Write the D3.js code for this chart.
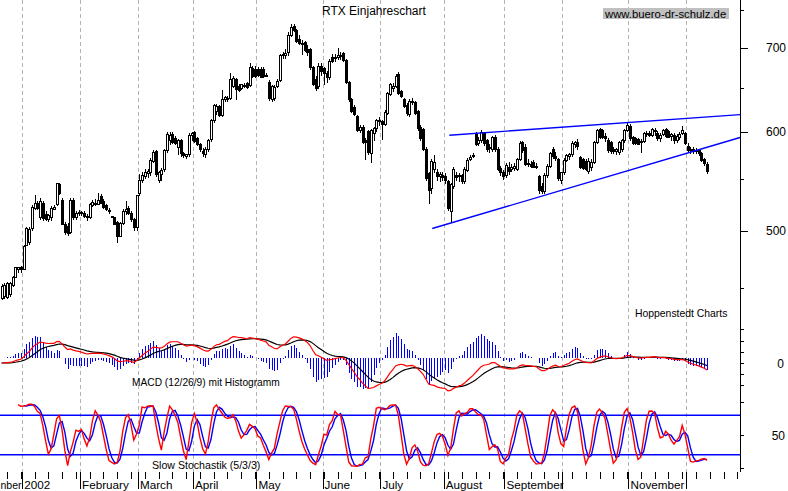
<!DOCTYPE html>
<html>
<head>
<meta charset="utf-8">
<script src="https://cdn.jsdelivr.net/npm/d3@7/dist/d3.min.js"></script>
<style>
body { margin: 0; background: #fff; }
svg { display: block; }
text { font-family: "Liberation Sans", Arial, sans-serif; font-size: 12px; fill: #000; }
</style>
</head>
<body>
<script>
// RTX Einjahreschart - daily candles, trend channel, MACD + slow stochastic

var opens = [
  441,443,442,445,452,459,466,467,466,487, 489,502,521,526,512,526,515,510,512,520,
  525,544,529,506,504,498,529,512,516,517, 516,513,512,524,526,525,532,528,524,519,
  513,512,508,495,507,518,521,516,510,503, 535,548,552,555,556,568,578,548,554,560,
  579,590,597,592,583,590,576,573,575,596, 599,592,586,578,575,580,591,612,622,628,
  618,636,638,638,652,660,652,650,653,655, 653,674,673,672,673,672,665,657,636,638,
  652,659,690,690,694,716,728,722,710,706, 707,698,698,675,660,652,676,674,667,663,
  688,686,688,689,692,684,657,636,627,617, 601,605,590,600,576,598,603,612,611,608,
  620,642,650,652,666,646,636,630,619,634, 633,622,605,602,580,555,540,560,556,552,
  553,552,547,518,542,553,552,553,547,559, 570,573,597,587,590,598,590,582,580,593,
  581,561,556,553,562,560,561,560,570,588, 583,566,565,567,563,552,542,537,553,563,
  580,573,570,548,556,569,573,575,586,588, 572,570,568,558,562,567,588,602,601,595,
  590,588,580,578,577,580,590,601,606,593, 592,591,588,589,597,598,596,601,598,592,
  597,602,600,595,596,590,593,598,598,584, 579,580,578,579,576,570,565
];
var highs = [
  453,454,455,455,460,468,468,469,487,503, 503,524,534,528,531,528,518,516,523,524,
  546,546,531,508,507,531,531,518,519,518, 518,516,526,529,530,536,535,530,525,521,
  514,513,509,508,520,528,523,518,512,534, 555,557,560,560,571,580,580,558,561,581,
  600,600,599,595,592,592,578,576,598,600, 601,594,588,582,583,592,614,631,631,630,
  648,641,641,668,664,662,655,655,656,657, 681,677,677,676,676,675,668,660,654,654,
  661,692,695,698,720,731,731,724,716,710, 709,703,700,677,664,680,681,676,671,686,
  692,692,700,694,694,686,659,638,630,619, 607,607,593,602,603,605,614,616,613,624,
  645,656,656,667,669,648,638,632,637,638, 635,624,607,604,583,557,570,575,560,557,
  557,556,549,546,562,557,556,555,562,572, 575,577,600,594,602,600,592,586,595,596,
  583,563,559,566,567,565,566,572,590,590, 586,570,568,569,566,554,546,556,565,578,
  583,578,572,557,572,576,577,590,590,592, 574,572,570,571,570,590,603,604,603,598,
  593,590,583,582,590,592,603,611,608,595, 594,593,592,600,601,601,604,604,601,598,
  603,604,602,598,598,597,599,606,600,587, 583,583,582,581,578,572,567
];
var lows = [
  440,441,441,443,451,458,463,463,465,486, 487,500,519,519,510,509,509,508,509,519,
  523,534,505,496,495,497,510,510,514,514, 512,509,511,522,523,524,525,520,518,516,
  512,505,489,494,505,515,515,508,500,500, 533,546,550,551,553,566,552,546,548,557,
  577,585,586,585,575,573,572,570,573,590, 587,584,578,573,572,578,589,610,618,616,
  616,634,634,636,650,636,645,648,650,649, 651,662,662,663,662,662,663,635,634,635,
  650,657,686,686,690,714,720,706,703,691, 695,690,672,652,647,649,665,654,656,660,
  680,682,684,684,682,655,634,621,617,599, 598,586,569,575,566,590,600,606,591,606,
  618,640,645,650,642,638,626,617,616,630, 618,601,590,579,548,525,535,556,548,547,
  548,545,518,507,540,548,547,545,545,557, 568,571,584,584,588,584,578,577,578,578,
  558,553,549,551,554,557,558,558,568,577, 563,562,561,561,560,535,535,535,551,561,
  570,568,548,545,554,567,569,573,582,580, 560,559,558,555,558,565,586,592,592,589,
  577,576,576,575,575,578,588,599,590,585, 585,585,577,587,594,594,594,595,590,589,
  595,593,593,590,586,588,591,596,585,577, 576,576,576,574,567,563,555
];
var closes = [
  451,452,454,454,459,467,467,466,486,502, 501,522,526,521,528,511,510,514,521,522,
  545,535,506,498,497,529,512,516,517,516, 513,512,525,527,525,529,526,522,520,518,
  513,506,495,507,518,520,516,510,503,533, 548,553,556,557,569,577,554,556,559,579,
  597,596,588,587,590,576,574,575,596,598, 589,586,580,576,580,590,612,629,628,618,
  636,639,638,660,662,648,647,654,652,651, 675,664,664,665,663,664,665,637,652,651,
  658,690,691,693,716,726,722,708,706,704, 697,694,675,654,650,676,670,667,663,683,
  683,688,690,690,684,657,636,623,619,601, 605,588,588,577,601,603,612,611,608,621,
  643,654,652,664,644,640,628,620,634,633, 620,603,592,581,550,538,568,567,552,554,
  551,548,521,544,560,551,553,547,560,569, 572,574,586,590,599,587,580,583,593,581,
  560,556,552,564,557,562,563,570,587,579, 565,565,563,562,562,538,537,553,563,576,
  573,571,550,556,569,574,575,587,588,584, 562,561,560,568,567,588,601,593,594,592,
  579,578,578,580,588,590,601,607,592,587, 587,586,589,598,598,596,602,600,592,596,
  601,595,594,597,590,595,597,601,587,579, 580,578,579,576,569,566,557
];

// x axis: first trading day of each month (bar index) and its label
// (the December 2001 label is cut by the left edge in the original, only "nber" shows)
var monthStart = [-13, 8, 29, 50, 70, 93, 117, 138, 161, 183, 204, 228, 249];
var monthNames = ["nber", "2002", "February", "March", "April", "May", "June",
                  "July", "August", "September", "", "November", ""];
var priceTicks = [500, 600, 700];
var priceMinor = [450, 550, 650, 750];
// trend channel end points [bar index, price]
var upperTrend = [[162.5, 596], [268, 619]];
var lowerTrend = [[156.3, 502], [268, 593.5]];
var macdTicks = [30, 20, 10, 0, -10, -20];
var stochTicks = [100, 50, 0];
var stochBands = [80, 20];

var W = 788, H = 491;
var axisX = 740, axisBottom = 472;

var svg = d3.select("body").append("svg")
    .attr("width", W)
    .attr("height", H);

var x = d3.scaleLinear().domain([0, 256]).range([1.5, 707]);
var y = d3.scaleLog().domain([500, 700]).range([230.7, 47.7]);
var yM = d3.scaleLinear().domain([0, 30]).range([363, 329.4]);
var yHist = d3.scaleLinear().domain([0, 5]).range([358, 343]);
var yS = d3.scaleLinear().domain([0, 100]).range([468, 402]);

// ---- indicators ----
function ema(arr, n) {
    var k = 2 / (n + 1), out = [], prev = arr[0];
    for (var i = 0; i < arr.length; i++) {
        prev = i == 0 ? arr[0] : arr[i] * k + prev * (1 - k);
        out.push(prev);
    }
    return out;
}
var ema12 = ema(closes, 12), ema26 = ema(closes, 26);
var macd = closes.map(function(c, i) { return ema12[i] - ema26[i]; });
var signal = ema(macd, 9);
var hist = macd.map(function(m, i) { return m - signal[i]; });

function sma(arr, n) {
    return arr.map(function(v, i) {
        if (i < n - 1) return null;
        var s = 0;
        for (var j = i - n + 1; j <= i; j++) {
            if (arr[j] == null) return null;
            s += arr[j];
        }
        return s / n;
    });
}
var fastK = closes.map(function(c, i) {
    if (i < 4) return null;
    var hh = d3.max(highs.slice(i - 4, i + 1)), ll = d3.min(lows.slice(i - 4, i + 1));
    return hh == ll ? 50 : 100 * (c - ll) / (hh - ll);
});
var slowK = sma(fastK, 3);
var slowD = sma(slowK, 3);

// ---- grid ----
svg.append("g").selectAll("line")
    .data(monthStart)
    .enter().append("line")
    .attr("x1", function(d) { return Math.round(x(d - 0.5)) + 0.5; })
    .attr("x2", function(d) { return Math.round(x(d - 0.5)) + 0.5; })
    .attr("y1", 0)
    .attr("y2", axisBottom)
    .attr("stroke", "#b4b4b4")
    .attr("stroke-dasharray", "4,3");

// ---- candles ----
var idx = d3.range(closes.length);
var candles = svg.append("g").attr("shape-rendering", "crispEdges");
candles.selectAll("line")
    .data(idx)
    .enter().append("line")
    .attr("x1", function(i) { return Math.round(x(i)) + 0.5; })
    .attr("x2", function(i) { return Math.round(x(i)) + 0.5; })
    .attr("y1", function(i) { return y(Math.max(highs[i], opens[i], closes[i])); })
    .attr("y2", function(i) { return y(Math.min(lows[i], opens[i], closes[i])); })
    .attr("stroke", "#000");
candles.selectAll("rect")
    .data(idx)
    .enter().append("rect")
    .attr("x", function(i) { return Math.round(x(i)) - 0.5; })
    .attr("width", 2)
    .attr("y", function(i) { return y(Math.max(opens[i], closes[i])); })
    .attr("height", function(i) { return Math.max(1, Math.abs(y(opens[i]) - y(closes[i]))); })
    .attr("fill", function(i) { return closes[i] >= opens[i] ? "#fff" : "#000"; })
    .attr("stroke", "#000");

// ---- trend channel ----
[upperTrend, lowerTrend].forEach(function(t) {
    svg.append("line")
        .attr("x1", x(t[0][0])).attr("y1", y(t[0][1]))
        .attr("x2", x(t[1][0])).attr("y2", y(t[1][1]))
        .attr("stroke", "#0000ff")
        .attr("stroke-width", 1.4);
});

// ---- MACD ----
svg.append("g").attr("shape-rendering", "crispEdges").selectAll("line")
    .data(idx)
    .enter().append("line")
    .attr("x1", function(i) { return Math.round(x(i)) + 0.5; })
    .attr("x2", function(i) { return Math.round(x(i)) + 0.5; })
    .attr("y1", yHist(0))
    .attr("y2", function(i) { return yHist(hist[i]); })
    .attr("stroke", "#0000ff");

var lineM = d3.line().x(function(d, i) { return x(i); }).y(function(d) { return yM(d); });
svg.append("path").datum(signal).attr("d", lineM)
    .attr("fill", "none").attr("stroke", "#000").attr("stroke-width", 1.2);
svg.append("path").datum(macd).attr("d", lineM)
    .attr("fill", "none").attr("stroke", "#ff0000").attr("stroke-width", 1.2);

// ---- Slow stochastic ----
svg.append("g").selectAll("line")
    .data(stochBands)
    .enter().append("line")
    .attr("x1", 0).attr("x2", axisX)
    .attr("y1", function(d) { return yS(d); })
    .attr("y2", function(d) { return yS(d); })
    .attr("stroke", "#0000ff")
    .attr("stroke-width", 1.4);

var lineS = d3.line()
    .defined(function(d) { return d != null; })
    .x(function(d, i) { return x(i); })
    .y(function(d) { return yS(d); });
svg.append("path").datum(slowD).attr("d", lineS)
    .attr("fill", "none").attr("stroke", "#0000ff").attr("stroke-width", 1.4);
svg.append("path").datum(slowK).attr("d", lineS)
    .attr("fill", "none").attr("stroke", "#ff0000").attr("stroke-width", 1.4);

// ---- right axis ----
var ax = svg.append("g").attr("shape-rendering", "crispEdges");
ax.append("line")
    .attr("x1", axisX + 0.5).attr("x2", axisX + 0.5)
    .attr("y1", 0).attr("y2", axisBottom)
    .attr("stroke", "#000");
ax.selectAll(".pt").data(priceTicks).enter().append("line")
    .attr("x1", axisX).attr("x2", axisX + 8)
    .attr("y1", function(d) { return Math.round(y(d)) + 0.5; })
    .attr("y2", function(d) { return Math.round(y(d)) + 0.5; })
    .attr("stroke", "#000");
ax.selectAll(".pm").data(priceMinor).enter().append("line")
    .attr("x1", axisX).attr("x2", axisX + 4)
    .attr("y1", function(d) { return Math.round(y(d)) + 0.5; })
    .attr("y2", function(d) { return Math.round(y(d)) + 0.5; })
    .attr("stroke", "#000");
svg.selectAll(".pl").data(priceTicks).enter().append("text")
    .attr("x", 786).attr("y", function(d) { return y(d) + 4.5; })
    .attr("text-anchor", "end")
    .text(function(d) { return d; });

ax.selectAll(".mt").data(macdTicks).enter().append("line")
    .attr("x1", axisX).attr("x2", axisX + 4)
    .attr("y1", function(d) { return Math.round(yM(d)) + 0.5; })
    .attr("y2", function(d) { return Math.round(yM(d)) + 0.5; })
    .attr("stroke", "#000");
svg.append("text").attr("x", 784).attr("y", yM(0) + 4.5)
    .attr("text-anchor", "end").text("0");

ax.selectAll(".st").data(stochTicks).enter().append("line")
    .attr("x1", axisX).attr("x2", axisX + 4)
    .attr("y1", function(d) { return Math.round(yS(d)) + 0.5; })
    .attr("y2", function(d) { return Math.round(yS(d)) + 0.5; })
    .attr("stroke", "#000");
svg.append("text").attr("x", 785).attr("y", yS(50) + 4.5)
    .attr("text-anchor", "end").text("50");

// ---- bottom axis: weekly ticks + month ticks ----
var weeks = d3.range(2, 270, 5).filter(function(i) { return x(i) < axisX; });
ax.selectAll(".wt").data(weeks).enter().append("line")
    .attr("x1", function(i) { return Math.round(x(i)) + 0.5; })
    .attr("x2", function(i) { return Math.round(x(i)) + 0.5; })
    .attr("y1", axisBottom).attr("y2", axisBottom + 7)
    .attr("stroke", "#000");
ax.selectAll(".mtk").data(monthStart).enter().append("line")
    .attr("x1", function(d) { return Math.round(x(d - 0.5)) + 0.5; })
    .attr("x2", function(d) { return Math.round(x(d - 0.5)) + 0.5; })
    .attr("y1", axisBottom).attr("y2", axisBottom + 17)
    .attr("stroke", "#000");
svg.selectAll(".ml").data(monthStart).enter().append("text")
    .attr("x", function(d, i) { return i == 0 ? 0.5 : x(d - 0.5) + 2; })
    .attr("y", 489)
    .style("font-size", function(d, i) { return i == 0 ? "10.5px" : "11.7px"; })
    .text(function(d, i) { return monthNames[i]; });

// ---- captions ----
svg.append("text").attr("x", 322).attr("y", 15.3).text("RTX Einjahreschart");
svg.append("rect").attr("x", 603).attr("y", 8).attr("width", 126).attr("height", 11)
    .attr("fill", "#c0c0c0");
svg.append("text").attr("x", 605).attr("y", 17.5).style("font-size", "11.3px")
    .text("www.buero-dr-schulz.de");
svg.append("text").attr("x", 635).attr("y", 317).style("font-size", "10.4px")
    .text("Hoppenstedt Charts");
svg.append("text").attr("x", 132).attr("y", 385.5).style("font-size", "10.2px")
    .text("MACD (12/26/9) mit Histogramm");
svg.append("text").attr("x", 152).attr("y", 469).style("font-size", "10.6px")
    .text("Slow Stochastik (5/3/3)");
</script>
</body>
</html>
